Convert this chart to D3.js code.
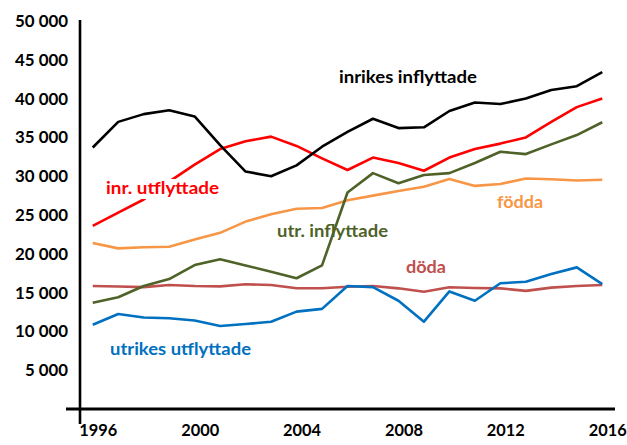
<!DOCTYPE html>
<html>
<head>
<meta charset="utf-8">
<script src="https://cdn.jsdelivr.net/npm/d3@7"></script>
<style>
  body { margin: 0; background: #fff; }
  text { font-family: Lato, "Open Sans", sans-serif; font-weight: bold; }
</style>
</head>
<body>
<div id="chart"></div>
<script>
const years = d3.range(1996, 2017);
const yTicks = d3.range(5000, 50001, 5000);
const xTicks = [1996, 2000, 2004, 2008, 2012, 2016];

const inrikesInflyttade = [33700, 37000, 38000, 38500, 37700, 34000, 30600, 30000, 31400, 33800, 35700, 37400, 36200, 36300, 38400, 39500, 39300, 40000, 41100, 41600, 43400];
const inrUtflyttade = [23600, 25300, 27000, 29300, 31500, 33500, 34500, 35100, 33900, 32300, 30800, 32400, 31700, 30700, 32400, 33500, 34200, 35000, 37000, 38900, 40000];
const fodda = [21400, 20700, 20850, 20900, 21850, 22700, 24150, 25100, 25800, 25900, 26900, 27500, 28100, 28650, 29650, 28750, 29000, 29700, 29600, 29450, 29550];
const utrInflyttade = [13700, 14400, 15850, 16750, 18550, 19300, 18500, 17700, 16850, 18500, 27900, 30400, 29100, 30150, 30400, 31700, 33150, 32850, 34100, 35300, 36950];
const doda = [15850, 15780, 15700, 15980, 15850, 15800, 16070, 15980, 15560, 15560, 15760, 15850, 15550, 15120, 15680, 15590, 15550, 15220, 15640, 15850, 15980];
const utrikesUtflyttade = [10850, 12250, 11800, 11700, 11400, 10700, 10950, 11250, 12550, 12900, 15850, 15700, 13950, 11250, 15150, 13950, 16200, 16400, 17400, 18250, 16100];

const series = [
  { name: 'döda', values: doda, color: '#c0504d', label: [406, 273, 40] },
  { name: 'födda', values: fodda, color: '#f79646', label: [497, 208, 46] },
  { name: 'utrikes utflyttade', values: utrikesUtflyttade, color: '#0070c0', label: [110, 355, 141] },
  { name: 'utr. inflyttade', values: utrInflyttade, color: '#4f6228', label: [277, 237, 111] },
  { name: 'inr. utflyttade', values: inrUtflyttade, color: '#ff0000', label: [106, 194, 113] },
  { name: 'inrikes inflyttade', values: inrikesInflyttade, color: '#000000', label: [339, 83, 138] }
];

const width = 627;
const height = 445;

const x = d3.scalePoint().domain(years).range([80, 615]).padding(0.5);
const y = d3.scaleLinear().domain([0, 50000]).range([409, 21]);

const fmt = d3.formatLocale({ decimal: ',', thousands: ' ', grouping: [3], currency: ['', ' kr'] }).format(',');

const svg = d3.select('#chart').append('svg').attr('width', width).attr('height', height);

// y tick labels
const yAxis = svg.append('g')
  .attr('transform', 'translate(72,0)')
  .call(d3.axisLeft(y).tickValues(yTicks).tickSize(0).tickPadding(4).tickFormat(fmt));
yAxis.select('.domain').remove();
yAxis.selectAll('.tick line').remove();
yAxis.selectAll('text')
  .attr('font-size', 17)
  .attr('fill', '#000')
  .attr('textLength', (d) => (d >= 10000 ? 53 : 43))
  .attr('lengthAdjust', 'spacingAndGlyphs')
  .style('font-family', 'Lato, sans-serif');

// x tick labels
const xAxis = svg.append('g')
  .attr('transform', 'translate(5,424)')
  .call(d3.axisBottom(x).tickValues(xTicks).tickSize(0).tickPadding(0));
xAxis.select('.domain').remove();
xAxis.selectAll('.tick line').remove();
xAxis.selectAll('text')
  .attr('font-size', 17)
  .attr('fill', '#000')
  .attr('textLength', 38)
  .attr('lengthAdjust', 'spacingAndGlyphs')
  .style('font-family', 'Lato, sans-serif');

const line = d3.line().x((d, i) => x(years[i])).y((d) => y(d));

series.forEach((s) => {
  svg.append('path')
    .attr('d', line(s.values))
    .attr('fill', 'none')
    .attr('stroke', s.color)
    .attr('stroke-width', 2.6)
    .attr('stroke-linejoin', 'round');
});

// series labels; the red one sits over its own line with white behind
series.forEach((s) => {
  const [lx, ly, lw] = s.label;
  if (s.name === 'inr. utflyttade') {
    svg.append('rect').attr('x', lx - 3).attr('y', ly - 15).attr('width', lw + 6).attr('height', 20).attr('fill', '#fff');
  }
  svg.append('text')
    .attr('x', lx)
    .attr('y', ly)
    .attr('fill', s.color)
    .attr('font-size', 17)
    .attr('textLength', lw)
    .attr('lengthAdjust', 'spacingAndGlyphs')
    .text(s.name);
});

// axis lines
svg.append('line').attr('x1', 80).attr('x2', 80).attr('y1', 20).attr('y2', 424).attr('stroke', '#000').attr('stroke-width', 2.6);
svg.append('line').attr('x1', 66).attr('x2', 615).attr('y1', 409).attr('y2', 409).attr('stroke', '#000').attr('stroke-width', 3);
</script>
</body>
</html>
